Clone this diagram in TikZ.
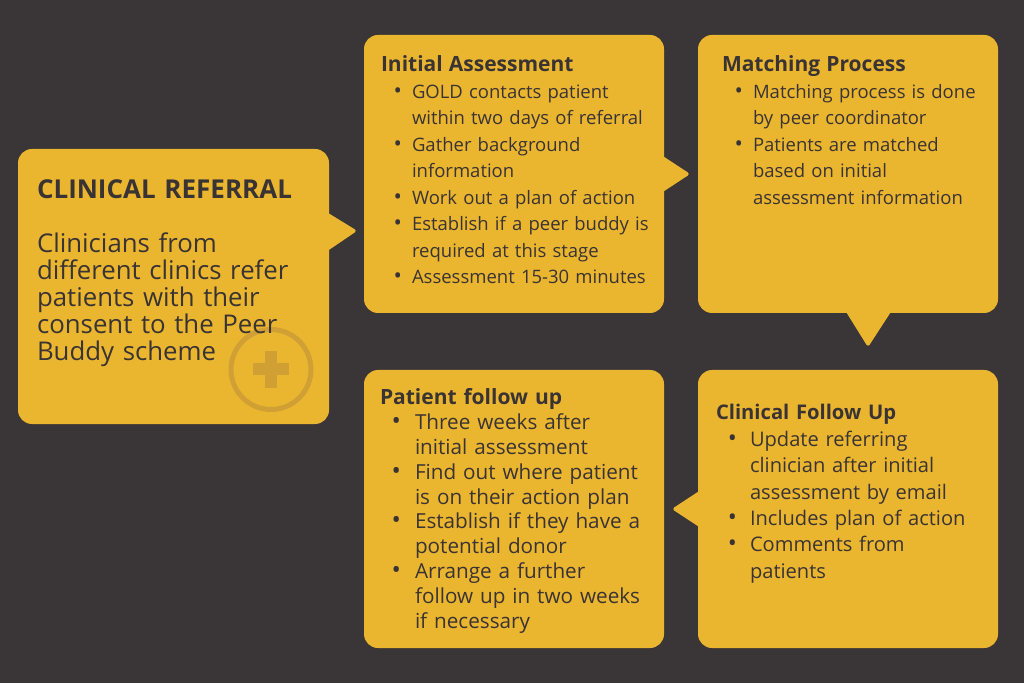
\documentclass[tikz,border=0pt]{standalone}
\usepackage{fontspec}
\setmainfont{Open Sans}
\setsansfont{Open Sans}
\usepackage{enumitem}
\usetikzlibrary{calc}
\definecolor{bg}{HTML}{3A3536}
\definecolor{gold}{HTML}{EBB62F}
\definecolor{ink}{HTML}{3A3334}
\definecolor{iconcol}{HTML}{D1A035}
\setlist[itemize]{label=\scalebox{1.2}{\textbullet},leftmargin=31pt,labelsep=10pt,topsep=0pt,itemsep=0pt,parsep=0pt,partopsep=0pt}
\newcommand{\boxhead}[2][21]{{\fontsize{#1}{26.5}\selectfont\bfseries #2\par}}
\tikzset{bubble/.style={fill=gold,rounded corners=14pt,inner sep=0pt,minimum width=300pt,minimum height=278pt}}
\tikzset{beak/.style={fill=gold}}
\tikzset{t/.style={anchor=base west,inner sep=0pt,text=ink,align=left,text width=280pt,font=\fontsize{18.5}{26.5}\selectfont}}

\begin{document}
\begin{tikzpicture}[x=1pt,y=1pt,font=\sffamily]
      \fill[bg] (0,0) rectangle (1024,683);
      \node[bubble,minimum width=311pt,minimum height=275pt] (ref) at (173.5,396.5) {};
      \node[bubble] (init) at (514,509) {};
      \node[bubble] (match) at (848,509) {};
      \node[bubble] (clin) at (848,174) {};
      \node[bubble] (pfu) at (514,174) {};
        \fill[beak] ([xshift=-3pt,yshift=-63pt]ref.north east) [rounded corners=3pt] -- ([xshift=28pt,yshift=-82pt]ref.north east) [sharp corners] -- ([xshift=-3pt,yshift=-103pt]ref.north east) -- cycle;
        \fill[beak] ([xshift=-3pt,yshift=19pt]init.east) [rounded corners=3pt] -- ([xshift=26pt]init.east) [sharp corners] -- ([xshift=-3pt,yshift=-19pt]init.east) -- cycle;
        \fill[beak] ([xshift=-3pt,yshift=3pt]match.south) [rounded corners=3pt] -- ([xshift=20pt,yshift=-34pt]match.south) [sharp corners] -- ([xshift=44pt,yshift=3pt]match.south) -- cycle;
        \fill[beak] ([xshift=3pt,yshift=19pt]clin.west) [rounded corners=3pt] -- ([xshift=-26pt]clin.west) [sharp corners] -- ([xshift=3pt,yshift=-19pt]clin.west) -- cycle;
      \coordinate (icon) at (271,313.5);
        \draw[iconcol,line width=5pt] (icon) circle (40pt);
      \node[fill=iconcol,inner sep=0pt,minimum width=36pt,minimum height=12pt] (plush) at (icon) {};
      \node[fill=iconcol,inner sep=0pt,minimum width=12pt,minimum height=37pt] (plusv) at (icon) {};
      \node[t,font=\fontsize{26}{32}\selectfont\bfseries] (refhead) at ([xshift=19pt,yshift=-50pt]ref.north west) {CLINICAL REFERRAL};
      \node[t,text width=295pt,font=\fontsize{25.8}{27}\selectfont] (reftext) at ([xshift=19pt,yshift=-104pt]ref.north west) {Clinicians from\\ different clinics refer\\ patients with their\\ consent to the Peer\\ Buddy scheme};
      \node[t] (inittext) at ([xshift=17pt,yshift=-37pt]init.north west) {\boxhead{Initial Assessment}
        \begin{itemize}
          \item GOLD contacts patient\\ within two days of referral
          \item Gather background\\ information
          \item Work out a plan of action
          \item Establish if a peer buddy is\\ required at this stage
          \item Assessment 15-30 minutes
        \end{itemize}};
      \node[t] (matchtext) at ([xshift=24pt,yshift=-37pt]match.north west) {\boxhead{Matching Process}
        \begin{itemize}
          \item Matching process is done\\ by peer coordinator
          \item Patients are matched\\ based on initial\\ assessment information
        \end{itemize}};
      \node[t,font=\fontsize{20.1}{26.4}\selectfont] (clintext) at ([xshift=18pt,yshift=-50pt]clin.north west) {\boxhead[20.2]{Clinical Follow Up}
        \begin{itemize}[leftmargin=34pt,labelsep=13pt]
          \item Update referring\\ clinician after initial\\ assessment by email
          \item Includes plan of action
          \item Comments from\\ patients
        \end{itemize}};
      \node[t,font=\fontsize{20.7}{24.8}\selectfont] (pfutext) at ([xshift=16pt,yshift=-35pt]pfu.north west) {\boxhead{Patient follow up}
        \begin{itemize}[leftmargin=35pt,labelsep=14pt]
          \item Three weeks after\\ initial assessment
          \item Find out where patient\\ is on their action plan
          \item Establish if they have a\\ potential donor
          \item Arrange a further\\ follow up in two weeks\\ if necessary
        \end{itemize}};
    \end{tikzpicture}
\end{document}
